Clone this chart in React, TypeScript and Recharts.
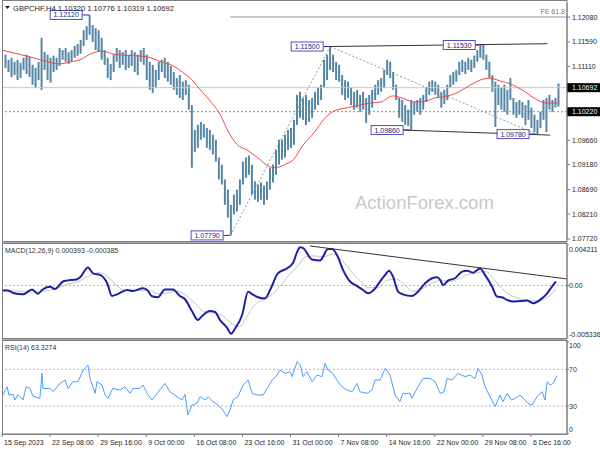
import {
  ComposedChart,
  Bar,
  Line,
  XAxis,
  YAxis,
  ReferenceLine,
  ReferenceDot,
} from "recharts"

const FONT = "'Liberation Sans', Arial, sans-serif"
const BAR = "#5686a6"
const MA_RED = "#f04848"
const MACD_BLUE = "#1f1fa3"
const SIGNAL_GRAY = "#c4c4c4"
const RSI_BLUE = "#4a9eff"
const FRAME = "#7d7d7d"
const INK = "#1e1e1e"

// price bars (two H4 bars per slot), high / low
const barHigh = [
  1.1134, 1.1124, 1.1128, 1.112, 1.1124, 1.1118, 1.1128, 1.1134, 1.113, 1.1114,
  1.1108, 1.112, 1.1167, 1.1139, 1.1134, 1.1128, 1.1132, 1.1128, 1.1147, 1.1143,
  1.1147, 1.1139, 1.1143, 1.1151, 1.1155, 1.1163, 1.1182, 1.119, 1.1212, 1.1192,
  1.1186, 1.1182, 1.1167, 1.1143, 1.1128, 1.1116, 1.1134, 1.1147, 1.1143, 1.1139,
  1.1143, 1.1134, 1.1143, 1.1139, 1.1134, 1.1143, 1.1147, 1.1134, 1.112, 1.1114,
  1.1104, 1.112, 1.1124, 1.1128, 1.112, 1.1112, 1.11, 1.1088, 1.1094, 1.1081,
  1.1084, 1.1075, 1.1035, 1.0986, 1.0996, 1.1002, 1.0998, 1.099, 1.0986, 1.0977,
  1.0967, 1.0932, 1.0918, 1.0889, 1.0869, 1.0839, 1.0859, 1.0869, 1.0889, 1.0924,
  1.0932, 1.0936, 1.0918, 1.0885, 1.0879, 1.0883, 1.0877, 1.0885, 1.0912, 1.0918,
  1.0947, 1.0967, 1.0967, 1.0977, 1.0986, 1.099, 1.1006, 1.1055, 1.1061, 1.1049,
  1.1055, 1.1045, 1.1049, 1.1061, 1.1069, 1.1075, 1.1124, 1.1134, 1.115, 1.1134,
  1.112, 1.1114, 1.1094, 1.1084, 1.1081, 1.1069, 1.1061, 1.1065, 1.1055, 1.1061,
  1.1049, 1.1055, 1.1065, 1.1075, 1.1084, 1.1088, 1.1104, 1.1124, 1.112, 1.11,
  1.1075, 1.1049, 1.1045, 1.1035, 1.1026, 1.1045, 1.1041, 1.1045, 1.1049, 1.1055,
  1.1069, 1.1081, 1.1084, 1.1081, 1.1075, 1.1061, 1.1065, 1.1075, 1.1094, 1.11,
  1.1104, 1.112, 1.1124, 1.112, 1.1128, 1.1124, 1.1132, 1.1143, 1.1151, 1.1153,
  1.1134, 1.112, 1.1094, 1.1081, 1.1075, 1.1069, 1.1075, 1.1065, 1.1088, 1.1049,
  1.1041, 1.1045, 1.1041, 1.1035, 1.1045, 1.103, 1.1016, 1.1006, 1.1022, 1.1045,
  1.1049, 1.1055, 1.1045, 1.1049, 1.10776,
]
const barLow = [
  1.1108, 1.11, 1.109, 1.1094, 1.1084, 1.1088, 1.1104, 1.1096, 1.109, 1.1075,
  1.1069, 1.1084, 1.1065, 1.1104, 1.1084, 1.1079, 1.11, 1.1104, 1.1112, 1.1124,
  1.112, 1.1116, 1.112, 1.1128, 1.1132, 1.1136, 1.1151, 1.1163, 1.1173, 1.1159,
  1.1143, 1.1139, 1.1124, 1.1114, 1.1088, 1.1084, 1.11, 1.112, 1.1108, 1.1114,
  1.1104, 1.1108, 1.1112, 1.11, 1.1094, 1.112, 1.1114, 1.1084, 1.1065, 1.1059,
  1.1069, 1.1084, 1.11, 1.1088, 1.1081, 1.1075, 1.1065, 1.1055, 1.1049, 1.1045,
  1.1055, 1.1026, 1.0912, 1.0943, 1.0951, 1.0967, 1.0971, 1.0951, 1.0947, 1.0938,
  1.0924, 1.0889, 1.0879, 1.0839, 1.0814, 1.0779, 1.082, 1.0826, 1.0839, 1.0879,
  1.0892, 1.0898, 1.0859, 1.0849, 1.0845, 1.0849, 1.0839, 1.0849, 1.0869, 1.0883,
  1.0898, 1.0918, 1.0928, 1.0932, 1.0947, 1.0951, 1.0957, 1.0996, 1.101, 1.1006,
  1.0996, 1.1002, 1.101, 1.1026, 1.1035, 1.1045, 1.1069, 1.1084, 1.1104, 1.11,
  1.1084, 1.1081, 1.1055, 1.1045, 1.1049, 1.1035, 1.1026, 1.103, 1.1022, 1.1026,
  1.1, 1.1016, 1.103, 1.1045, 1.1055, 1.1061, 1.1069, 1.1094, 1.1088, 1.1065,
  1.1045, 1.101, 1.1002, 1.0996, 1.0994, 1.0986, 1.1016, 1.1022, 1.1016, 1.1026,
  1.1041, 1.1055, 1.1061, 1.1055, 1.1049, 1.103, 1.1037, 1.1045, 1.1069, 1.1075,
  1.1081, 1.1094, 1.11, 1.1096, 1.1104, 1.11, 1.1108, 1.112, 1.1128, 1.1124,
  1.1104, 1.1088, 1.1061, 1.0992, 1.1035, 1.1026, 1.1022, 1.1016, 1.1045, 1.1016,
  1.101, 1.1016, 1.101, 1.0996, 1.1006, 1.099, 1.0982, 1.0978, 1.099, 1.1006,
  1.0982, 1.1026, 1.1022, 1.103, 1.10319,
]

// red moving average
const maT = [
  0, 9, 14, 19, 23, 26, 29, 33, 35, 38, 44, 48, 53, 57, 60, 63, 66, 69, 73, 75,
  78, 82, 85, 89, 91, 94, 97, 100, 104, 107, 110, 115, 119, 123, 126, 130, 134,
  137, 141, 144, 147, 152, 156, 160, 162, 166, 169, 173, 177, 181, 185,
]
const maV = [
  1.1143, 1.113, 1.1122, 1.1116, 1.112, 1.1124, 1.1134, 1.1141, 1.1139, 1.1134,
  1.1132, 1.113, 1.112, 1.1112, 1.11, 1.1086, 1.1065, 1.1045, 1.1012, 1.0986,
  1.0959, 1.0945, 1.0932, 1.0914, 1.0912, 1.0918, 1.0928, 1.0955, 1.0982, 1.1006,
  1.1022, 1.103, 1.1035, 1.1039, 1.1041, 1.1053, 1.1047, 1.1041, 1.1043, 1.1049,
  1.1051, 1.1061, 1.1075, 1.1086, 1.1088, 1.1082, 1.1077, 1.1065, 1.1049, 1.1039,
  1.1039,
]

// MACD main + signal
const macdT = [
  0, 1.7, 3.7, 7, 10, 12, 13.3, 16, 17.6, 20.3, 21.6, 25, 26, 28.6, 30.3, 32.6,
  35, 36.6, 38.3, 41.6, 43.6, 46.9, 48.3, 49.9, 51.9, 54.2, 56.9, 59.2, 60.9,
  63.2, 65.2, 66.6, 69.2, 70.9, 72.5, 74.9, 76.2, 77.5, 79.9, 81.9, 83.5, 85.2,
  87.5, 89.2, 91.8, 94.8, 96.8, 98.5, 99.2, 100.2, 103.2, 105.8, 108.5, 109.8,
  111.5, 113.5, 115.8, 118.1, 120.1, 121.8, 123.5, 125.8, 127.5, 128.8, 130.1,
  131.8, 133.4, 136.4, 138.4, 140.8, 143.1, 144.8, 145.8, 146.8, 148.4, 150.7,
  153.1, 154.7, 156.7, 159.1, 160.7, 163.1, 164.7, 166.4, 168, 170, 172.4, 174.7,
  176.7, 179, 181.4, 183, 184.3,
]
const macdV = [
  -0.0005, -0.0005, -0.00076, -0.0009, -0.0004, -0.00085, -0.00046, -0.00014,
  -0.00035, 0.0004, 0.00049, 0.00063, 0.00084, 0.00182, 0.00123, 0.00107,
  0.00022, -0.00107, -0.0009, -0.00046, -0.00056, -0.00029, -0.00046, -0.0011,
  -0.0012, -0.0004, -0.0004, -0.00107, -0.0014, -0.0026, -0.0035, -0.0031,
  -0.0026, -0.0027, -0.0035, -0.0043, -0.0049, -0.0044, -0.003, -0.00063,
  -0.00094, -0.0012, -0.00133, -0.00046, 0.00123, 0.00173, 0.00227, 0.00361,
  0.00388, 0.0038, 0.00263, 0.00254, 0.0037, 0.0037, 0.00307, 0.00156, 0.0004,
  -0.00005, -0.00046, -0.0008, -0.00052, 0.0004, 0.00107, 0.0015, 0.0009,
  -0.00063, -0.0009, -0.00107, -0.00063, 0.00022, 0.00073, 0.00084, 0.00057,
  0.00004, 0.00049, 0.00073, 0.0014, 0.0015, 0.0013, 0.00173, 0.00107, -0.00014,
  -0.00113, -0.0012, -0.00147, -0.00164, -0.00158, -0.00154, -0.00181, -0.00147,
  -0.0008, -0.00012, 0.000393,
]
const sigT = [
  0, 5, 10, 14, 18, 22, 26, 29, 32, 35, 38, 41, 45, 49, 52, 55, 58, 61, 64, 67,
  70, 73, 76, 79, 81, 84, 87, 90, 93, 96, 99, 101, 104, 107, 110, 113, 116, 119,
  122, 125, 128, 131, 134, 137, 140, 143, 146, 149, 152, 155, 158, 161, 164, 167,
  170, 173, 176, 179, 182, 184.3,
]
const sigV = [
  -0.0004, -0.00058, -0.00067, -0.00058, -0.00032, 0.00013, 0.00049, 0.001,
  0.0013, 0.00093, 0.00004, -0.0005, -0.0005, -0.0005, -0.00085, -0.00076,
  -0.00058, -0.00094, -0.00175, -0.0026, -0.0028, -0.003, -0.0038, -0.0042,
  -0.0034, -0.002, -0.0014, -0.0009, 0.00013, 0.0012, 0.0022, 0.0029, 0.003,
  0.0029, 0.0032, 0.0026, 0.0015, 0.0005, -0.00023, -0.00023, 0.0005, 0.00066,
  0.00004, -0.00058, -0.00032, 0.00022, 0.0005, 0.0004, 0.00066, 0.0011, 0.0013,
  0.0014, 0.0005, -0.0005, -0.0011, -0.0014, -0.00155, -0.00155, -0.0011,
  -0.000385,
]

// RSI(14)
const rsiT = [
  0, 1.7, 2.3, 3.7, 4.3, 5.3, 7, 8, 9.3, 10.3, 12.6, 13.3, 13.6, 16, 17, 19.3,
  21, 22, 23.6, 25.3, 27, 28.6, 29.3, 31, 31.6, 33.3, 34.3, 35.3, 36.9, 39.3,
  40.9, 42.6, 43.6, 45.9, 46.9, 48.3, 49.9, 51.6, 54.2, 55.9, 58.2, 59.9, 60.9,
  61.9, 63.2, 64.9, 65.9, 67.6, 68.6, 70.2, 71.9, 73.5, 74.9, 75.9, 76.9, 78.5,
  80.2, 81.9, 83.2, 84.9, 86.9, 88.2, 89.9, 91.5, 92.5, 94.2, 95.8, 96.5, 98.2,
  99.2, 100.2, 101.5, 103.2, 104.8, 106.5, 107.5, 108.5, 110.1, 111.8, 113.1,
  114.8, 116.5, 118.1, 119.1, 121.5, 123.1, 124.1, 125.8, 127.5, 129.1, 130.8,
  132.4, 133.4, 135.8, 136.4, 138.1, 140.1, 142.4, 144.1, 145.8, 147.1, 148.1,
  149.8, 151.7, 154.1, 155.7, 157.4, 158.4, 159.7, 160.7, 162.4, 164.1, 165.7,
  166.7, 168.1, 169.4, 170.7, 172.4, 174, 175, 176.4, 178, 179.7, 180.7, 181.4,
  182.4, 183.4, 184.7,
]
const rsiV = [
  40.2, 51.1, 42.0, 42.7, 36.5, 42.7, 36.5, 51.1, 49.2, 40.9, 38.3, 65.6, 49.2,
  49.2, 45.6, 54.7, 58.3, 49.2, 56.5, 56.5, 69.2, 74.7, 60.1, 43.8, 56.5, 52.9,
  42.0, 38.3, 49.2, 47.4, 51.1, 43.8, 49.2, 49.2, 52.9, 43.8, 36.5, 43.8, 54.7,
  45.6, 40.2, 36.5, 42.7, 20.2, 31.1, 32.9, 40.2, 36.5, 40.2, 34.7, 31.1, 25.6,
  18.4, 25.6, 36.5, 40.2, 52.9, 58.3, 43.8, 42.0, 42.0, 49.2, 58.3, 63.8, 69.2,
  65.6, 67.4, 62.0, 78.4, 74.7, 62.0, 67.4, 56.5, 63.8, 62.0, 76.5, 69.2, 65.6,
  56.5, 51.1, 47.4, 45.6, 54.7, 45.6, 43.8, 47.4, 58.3, 58.3, 71.0, 63.8, 42.0,
  34.7, 43.8, 43.8, 38.3, 49.2, 60.1, 60.1, 56.5, 43.8, 45.6, 60.1, 58.3, 65.6,
  62.0, 63.8, 60.1, 71.0, 63.8, 51.1, 40.2, 29.3, 42.0, 34.7, 43.8, 36.5, 38.3,
  42.0, 36.5, 32.9, 31.1, 40.2, 45.6, 36.5, 56.5, 52.9, 54.7, 63.3,
]

// 1.10630 and 1.10140 sit under the two highlighted boxes, so they are left out
const priceTicks = [1.1208, 1.1159, 1.1111, 1.0966, 1.0918, 1.0869, 1.0821, 1.0772]
const lastPrice = 1.10692
const levelPrice = 1.1022
const macdTicks = [0.004211, 0, -0.005336]
const rsiTicks = [100, 70, 30, 0]
const dateTicks = [0, 16, 32, 48, 64, 80, 96, 112, 128, 144, 160, 176]
const dateLabels = [
  "15 Sep 2023", "22 Sep 08:00", "29 Sep 16:00", "9 Oct 00:00", "16 Oct 08:00",
  "23 Oct 16:00", "31 Oct 00:00", "7 Nov 08:00", "14 Nov 16:00", "22 Nov 00:00",
  "29 Nov 08:00", "6 Dec 16:00",
]

// swing highs / lows that carry a price tag
const swingT = [29, 75.9, 109.2, 135.8, 159.8, 177.7]
const swingP = [1.1212, 1.0779, 1.115, 1.0986, 1.1153, 1.0978]

const bars = barHigh.map((hi, i) => ({ t: i + 1, hi, lo: barLow[i] }))
const zip = (ts: number[], vs: number[]) => ts.map((t, i) => ({ t, v: vs[i] }))
const maData = zip(maT, maV)
const macdData = zip(macdT, macdV)
const sigData = zip(sigT, sigV)
const rsiData = zip(rsiT, rsiV)

const X_DOMAIN: [number, number] = [0, 188]
const txt = { fontSize: 7, fontFamily: FONT }

function PriceTick({ x, y, payload }: any) {
  const v = payload.value as number
  const hot = v === lastPrice || v === levelPrice
  return (
    <g>
      {hot && <rect x={x - 5} y={y - 4.5} width={34} height={9} fill="#000" />}
      <text x={x} y={y + 2.5} {...txt} fill={hot ? "#fff" : INK}>
        {v.toFixed(5)}
      </text>
    </g>
  )
}

function MacdTick({ x, y, payload }: any) {
  const v = payload.value as number
  const dy = v > 0 ? 7.5 : v < 0 ? -1.5 : 2.5
  return (
    <text x={x - 2} y={y + dy} {...txt} fill={INK}>
      {v === 0 ? "0.00" : v.toFixed(6)}
    </text>
  )
}

function RsiTick({ x, y, payload }: any) {
  const v = payload.value as number
  const dy = v === 100 ? 5.7 : v === 0 ? -2 : 2.5
  return (
    <text x={x - 2} y={y + dy} {...txt} fill={INK}>
      {v}
    </text>
  )
}

function DateTick({ x, y, payload }: any) {
  const i = dateTicks.indexOf(payload.value)
  return (
    <text x={x + 2} y={y + 5.5} {...txt} fill={INK}>
      {dateLabels[i]}
    </text>
  )
}

function PriceTag({ cx, cy, text }: { cx: number; cy: number; text: string }) {
  return (
    <g>
      <line x1={cx - 7} x2={cx} y1={cy} y2={cy} stroke="#2a2a8a" />
      <rect x={cx - 39} y={cy - 4.5} width={32} height={9} fill="#fff" stroke="#5050c4" />
      <text x={cx - 23} y={cy + 2.5} textAnchor="middle" {...txt} fill="#1c1c7a">
        {text}
      </text>
    </g>
  )
}

function MainPanel() {
  return (
    <ComposedChart width={600} height={241} data={bars} margin={{ top: 3, right: 0, bottom: 1, left: 2 }}>
      <XAxis type="number" dataKey="t" domain={X_DOMAIN} allowDataOverflow hide height={0} />
      <YAxis
        orientation="right"
        type="number"
        domain={[1.077, 1.12355]}
        allowDataOverflow
        ticks={[...priceTicks, lastPrice, levelPrice]}
        interval={0}
        width={33}
        tickSize={3}
        tick={PriceTick}
        axisLine={{ stroke: FRAME }}
        tickLine={{ stroke: FRAME }}
      />
      <ReferenceLine y={lastPrice} stroke="#c8c8c8" />
      <ReferenceLine y={levelPrice} stroke="#8c8c8c" strokeDasharray="2 2" />
      <ReferenceLine segment={[{ x: 76, y: 1.1208 }, { x: 188, y: 1.1208 }]} stroke="#8a9799" />
      <ReferenceLine segment={[{ x: 76, y: 1.0779 }, { x: 109.2, y: 1.115 }]} stroke="#8a9a9a" strokeDasharray="2 2" />
      <ReferenceLine segment={[{ x: 109.2, y: 1.115 }, { x: 177.4, y: 1.0979 }]} stroke="#8a9a9a" strokeDasharray="2 2" />
      <Bar dataKey={(d: any) => [d.lo, d.hi]} fill={BAR} barSize={2} isAnimationActive={false} />
      <Line data={maData} dataKey="v" type="monotone" stroke={MA_RED} strokeWidth={1} dot={false} isAnimationActive={false} />
      <ReferenceLine segment={[{ x: 109.2, y: 1.115 }, { x: 181.5, y: 1.11555 }]} stroke="#333" />
      <ReferenceLine segment={[{ x: 123.1, y: 1.0988 }, { x: 182.4, y: 1.0976 }]} stroke="#333" />
      {swingT.map((t, i) => (
        <ReferenceDot
          key={t}
          x={t}
          y={swingP[i]}
          r={0}
          shape={(p: any) => <PriceTag cx={p.cx} cy={p.cy} text={swingP[i].toFixed(5)} />}
        />
      ))}
      <ReferenceDot
        x={188}
        y={1.1208}
        r={0}
        shape={(p: any) => (
          <text x={p.cx - 2} y={p.cy - 3} textAnchor="end" {...txt} fill="#6d7b7e">
            FE 61.8
          </text>
        )}
      />
    </ComposedChart>
  )
}

function MacdPanel() {
  return (
    <ComposedChart width={600} height={94} margin={{ top: 0, right: 0, bottom: 0, left: 2 }}>
      <XAxis type="number" dataKey="t" domain={X_DOMAIN} allowDataOverflow hide height={0} />
      <YAxis
        orientation="right"
        type="number"
        domain={[-0.005336, 0.004211]}
        allowDataOverflow
        ticks={macdTicks}
        interval={0}
        width={33}
        tickSize={2}
        tick={MacdTick}
        axisLine={{ stroke: FRAME }}
        tickLine={{ stroke: FRAME }}
      />
      <ReferenceLine y={0} stroke="#b4b4b4" strokeDasharray="2 2" />
      <Line data={sigData} dataKey="v" type="monotone" stroke={SIGNAL_GRAY} strokeWidth={1} dot={false} isAnimationActive={false} />
      <Line data={macdData} dataKey="v" type="monotone" stroke={MACD_BLUE} strokeWidth={2} dot={false} isAnimationActive={false} />
      <ReferenceLine segment={[{ x: 102.5, y: 0.00401 }, { x: 188, y: 0.00066 }]} stroke="#333" />
    </ComposedChart>
  )
}

function RsiPanel() {
  return (
    <ComposedChart width={600} height={110} margin={{ top: 0, right: 0, bottom: 0, left: 2 }}>
      <XAxis
        type="number"
        dataKey="t"
        domain={X_DOMAIN}
        allowDataOverflow
        ticks={dateTicks}
        interval={0}
        height={16}
        tickSize={3}
        tick={DateTick}
        axisLine={{ stroke: FRAME }}
        tickLine={{ stroke: FRAME }}
      />
      <YAxis
        orientation="right"
        type="number"
        domain={[-0.5, 102]}
        allowDataOverflow
        ticks={rsiTicks}
        interval={0}
        width={33}
        tickSize={2}
        tick={RsiTick}
        axisLine={{ stroke: FRAME }}
        tickLine={{ stroke: FRAME }}
      />
      <ReferenceLine y={70} stroke="#b4b4b4" strokeDasharray="2 2" />
      <ReferenceLine y={30} stroke="#b4b4b4" strokeDasharray="2 2" />
      <Line data={rsiData} dataKey="v" type="linear" stroke={RSI_BLUE} strokeWidth={1} dot={false} isAnimationActive={false} />
    </ComposedChart>
  )
}

export default function App() {
  return (
    <div style={{ position: "absolute", left: 0, top: 0, width: 600, height: 450, background: "#fff", overflow: "hidden" }}>
      <div style={{ position: "absolute", left: 0, top: 0 }}>
        <MainPanel />
      </div>
      <div style={{ position: "absolute", left: 0, top: 244 }}>
        <MacdPanel />
      </div>
      <div style={{ position: "absolute", left: 0, top: 340 }}>
        <RsiPanel />
      </div>
      <svg width={600} height={450} style={{ position: "absolute", left: 0, top: 0, pointerEvents: "none" }}>
        <rect x={2.5} y={0.5} width={564.5} height={241} fill="none" stroke={FRAME} />
        <line x1={2} x2={567} y1={242.5} y2={242.5} stroke="#a8a8a8" />
        <rect x={2.5} y={243.5} width={564.5} height={95} fill="none" stroke={FRAME} />
        <line x1={2} x2={567} y1={339.5} y2={339.5} stroke="#a8a8a8" />
        <rect x={2.5} y={340.5} width={564.5} height={94} fill="none" stroke={FRAME} />
        <polygon points="5,6 10,6 7.5,9" fill={INK} />
        <text x={13} y={10.5} fontSize={7.6} fontFamily={FONT} fill={INK}>
          GBPCHF,H4 1.10320 1.10776 1.10319 1.10692
        </text>
        <text x={5} y={252.5} {...txt} fill="#333">
          MACD(12,26,9) 0.000393 -0.000385
        </text>
        <text x={5} y={350} {...txt} fill="#333">
          RSI(14) 63.3274
        </text>
        <text x={355} y={208.5} fontSize={18.5} fontFamily={FONT} fill="#c8c8c8">
          ActionForex.com
        </text>
      </svg>
    </div>
  )
}
